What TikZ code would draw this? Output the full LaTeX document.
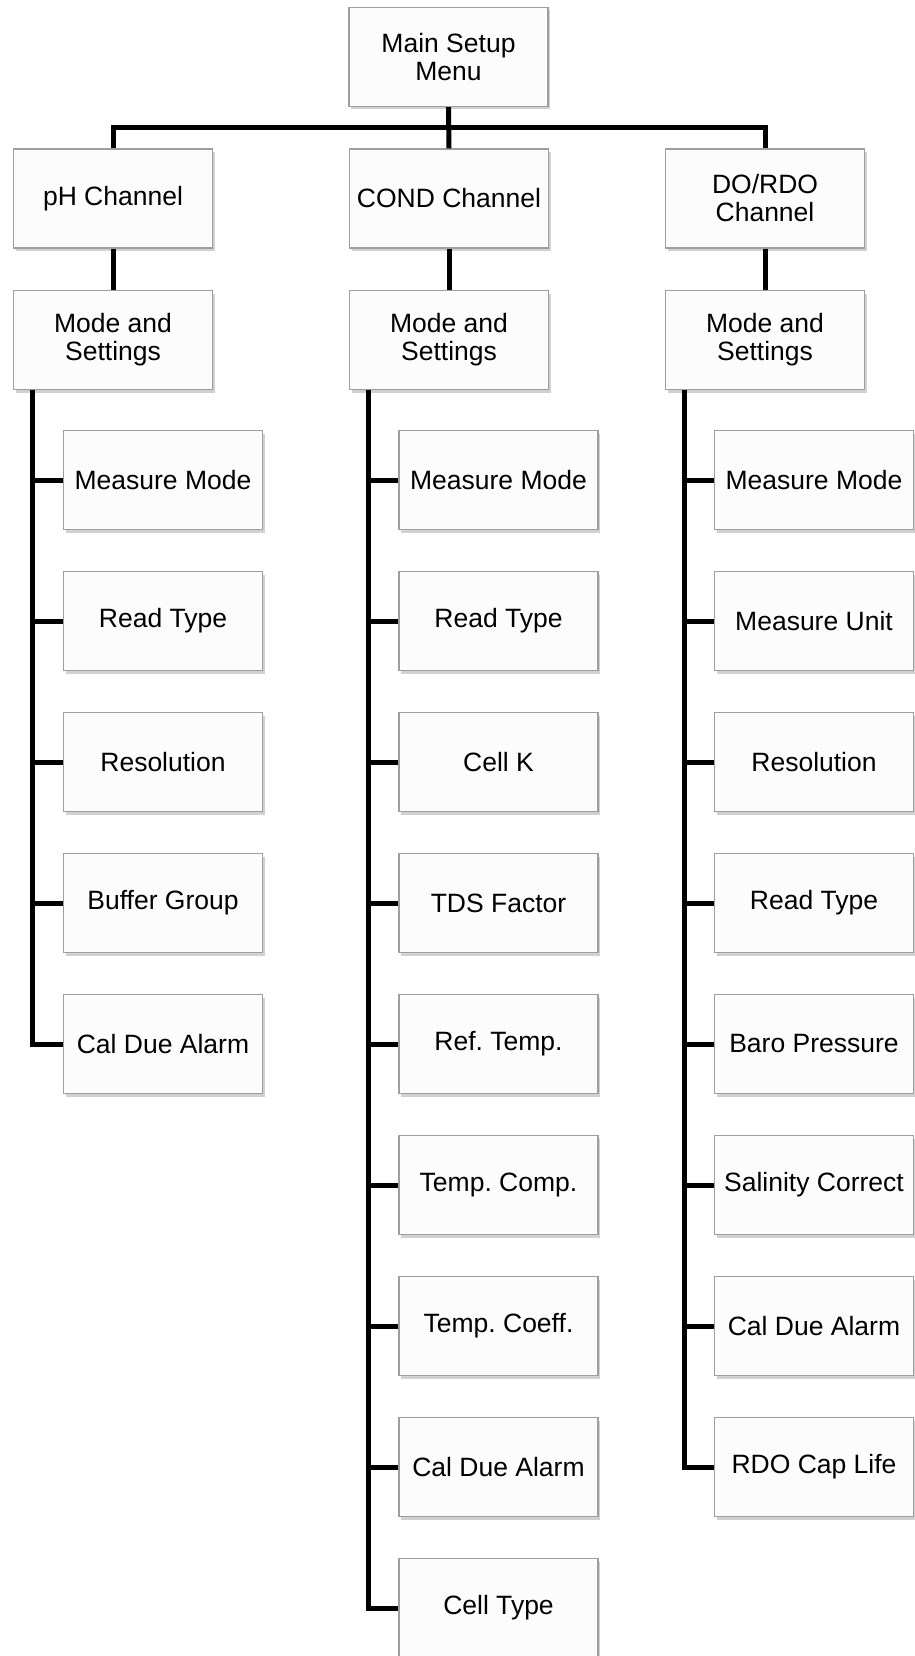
\documentclass[tikz,border=0pt]{standalone}
\usepackage{fontspec}
\setmainfont{Liberation Sans}
\usetikzlibrary{shadows}
\frenchspacing
\begin{document}
\begin{tikzpicture}[x=1pt,y=1pt,
  box/.style={draw=black!38, line width=1.2pt, fill=white!99!black,
    minimum width=199pt, minimum height=99pt, inner sep=0pt,
    align=center, font=\fontsize{26.5}{28}\selectfont,
    drop shadow={shadow xshift=2pt, shadow yshift=-3pt, opacity=0.3, fill=black!60}},
  conn/.style={line width=5pt, black}]
\useasboundingbox (0,0) rectangle (914,-1656);
% top
\node[box] (main) at (448.5,-57) {Main Setup\\Menu};
\node[box] (ph) at (113,-198.5) {pH Channel};
\node[box] (cond) at (449,-198.5) {COND Channel};
\node[box] (do) at (765,-198.5) {DO/RDO\\Channel};
\node[box] (phm) at (113,-340) {Mode and\\Settings};
\node[box] (condm) at (449,-340) {Mode and\\Settings};
\node[box] (dom) at (765,-340) {Mode and\\Settings};
% pH items
\foreach \t [count=\i] in {Measure Mode,Read Type,Resolution,Buffer Group,Cal Due Alarm}
  \node[box] (ph\i) at (163,{-480-141*(\i-1)}) {\t};
% COND items
\foreach \t [count=\i] in {Measure Mode,Read Type,Cell K,TDS Factor,Ref. Temp.,Temp. Comp.,Temp. Coeff.,Cal Due Alarm,Cell Type}
  \node[box] (cond\i) at (498.5,{-480-141*(\i-1)}) {\t};
% DO items
\foreach \t [count=\i] in {Measure Mode,Measure Unit,Resolution,Read Type,Baro Pressure,Salinity Correct,Cal Due Alarm,RDO Cap Life}
  \node[box] (do\i) at (814,{-480-141*(\i-1)}) {\t};
% connectors top
\draw[conn] (main.south) -- (cond.north);
\draw[conn] (ph.north) -- ++(0,21) -| (do.north);
\draw[conn] (ph.south) -- (phm.north);
\draw[conn] (cond.south) -- (condm.north);
\draw[conn] (do.south) -- (dom.north);
% spines
\coordinate (phs) at ([xshift=20pt]phm.south west);
\coordinate (conds) at ([xshift=20pt]condm.south west);
\coordinate (dos) at ([xshift=20pt]dom.south west);
\draw[conn] (phs) |- (ph5.west);
\draw[conn] (conds) |- (cond9.west);
\draw[conn] (dos) |- (do8.west);
\foreach \i in {1,...,4} \draw[conn] (ph\i.west) -- (ph\i.west -| phs);
\foreach \i in {1,...,8} \draw[conn] (cond\i.west) -- (cond\i.west -| conds);
\foreach \i in {1,...,7} \draw[conn] (do\i.west) -- (do\i.west -| dos);
\end{tikzpicture}
\end{document}
